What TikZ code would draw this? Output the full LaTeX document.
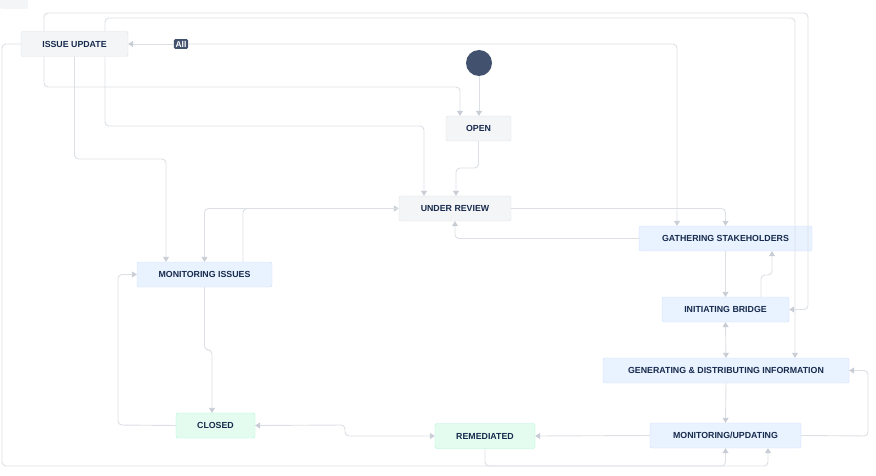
\documentclass[tikz,border=0pt]{standalone}
\usepackage{fontspec}
\setmainfont{Liberation Sans}
\usetikzlibrary{arrows.meta,calc}
\definecolor{ln}{HTML}{DCDFE4}
\definecolor{tip}{HTML}{C8CDD5}
\definecolor{gfill}{HTML}{F4F5F7}\definecolor{gdraw}{HTML}{DFE1E6}
\definecolor{bfill}{HTML}{E9F2FF}\definecolor{bdraw}{HTML}{CCE0FF}
\definecolor{nfill}{HTML}{E3FCEF}\definecolor{ndraw}{HTML}{ABF5D1}
\definecolor{dark}{HTML}{42526E}\definecolor{txt}{HTML}{172B4D}
\tikzset{
 st/.style={draw=gdraw,fill=gfill,rounded corners=2pt,inner sep=0pt,minimum height=25pt,font=\fontsize{8.8}{10}\selectfont\bfseries,text=txt},
 blue/.style={st,draw=bdraw,fill=bfill},
 green/.style={st,draw=ndraw,fill=nfill},
 con/.style={draw=ln,line width=0.9pt,rounded corners=4pt,-{Triangle[length=5pt,width=6pt,color=tip]}},
 bi/.style={con,{Triangle[length=5pt,width=6pt,color=tip]}-{Triangle[length=5pt,width=6pt,color=tip]}},
}
\begin{document}
\begin{tikzpicture}[x=1pt,y=-1pt]
\useasboundingbox (0,0) rectangle (876,476);
\fill[gfill,rounded corners=2pt] (0,-5) rectangle (28,9);
\node[st,minimum width=107pt] (iu) at (74.5,44) {ISSUE UPDATE};
\node[st,minimum width=65pt] (op) at (478.5,128.5) {OPEN};
\node[st,minimum width=112pt] (ur) at (455,208.5) {UNDER REVIEW};
\node[blue,minimum width=173pt] (gs) at (725.5,238.5) {GATHERING STAKEHOLDERS};
\node[blue,minimum width=135pt] (mi) at (204.5,274.5) {MONITORING ISSUES};
\node[blue,minimum width=127pt] (ib) at (725.5,309.5) {INITIATING BRIDGE};
\node[blue,minimum width=246pt] (gd) at (726,370.5) {GENERATING \& DISTRIBUTING INFORMATION};
\node[green,minimum width=79pt] (cl) at (215.5,425.5) {CLOSED};
\node[green,minimum width=100pt] (re) at (485,436) {REMEDIATED};
\node[blue,minimum width=151pt] (mu) at (725.5,435.5) {MONITORING/UPDATING};
\fill[dark] (479,63) circle (13) node (start) {};
\coordinate (startb) at (479,76);
\node[fill=dark,text=white,rounded corners=1.5pt,inner sep=1.8pt,font=\fontsize{8.5}{9}\selectfont\bfseries] (all) at (181,44) {All};
\draw[con] ([xshift=-30.5]iu.north) |- (808,13) |- (ib.east);
\draw[con] ([xshift=30.5]iu.north) |- (795,18) -- (gd.north -| 795,0);
\draw[con] (all.east) -- (677,44) -- (gs.north -| 677,0);
\draw[con] (all.west) -- (iu.east);
\draw[con] ([xshift=-30.5]iu.south) |- (460,87) -- (op.north -| 460,0);
\draw[con] ([xshift=30.5]iu.south) |- (424,126) -- (ur.north -| 424,0);
\draw[con] (iu.south) |- (166,159) -- (mi.north -| 166,0);
\draw[con] (iu.west) -- (2,44) -- (2,466) -| (mu.south);
\draw[con] (startb) -- (op.north -| startb);
\draw[con] (op.south) |- (456,168) -- (ur.north -| 456,0);
\draw[con] (ur.east) -| (gs.north);
\draw[con] (gs.west) -| (ur.south);
\draw[con] ([xshift=38.5]mi.north) |- (ur.west);
\draw[con] (ur.west) -| (mi.north);
\draw[con] (cl.west) -- (118,425) |- (mi.west);
\draw[con] (mi.south) |- (212,350) -- (cl.north -| 212,0);
\draw[bi] (cl.east) -- (345,425) |- (re.west);
\draw[con] (mu.west) -- (re.east);
\draw[con] (mu.east) -- (868,436) |- (gd.east);
\draw[con] (re.south) |- (768,466) -- (mu.south -| 768,0);
\draw[con] (gs.south) -- (ib.north);
\draw[con] ([xshift=35.5]ib.north) |- (772,275) -- (gs.south -| 772,0);
\draw[bi] (ib.south) -- (gd.north);
\draw[con] (gd.south) -- (mu.north);
\end{tikzpicture}
\end{document}
